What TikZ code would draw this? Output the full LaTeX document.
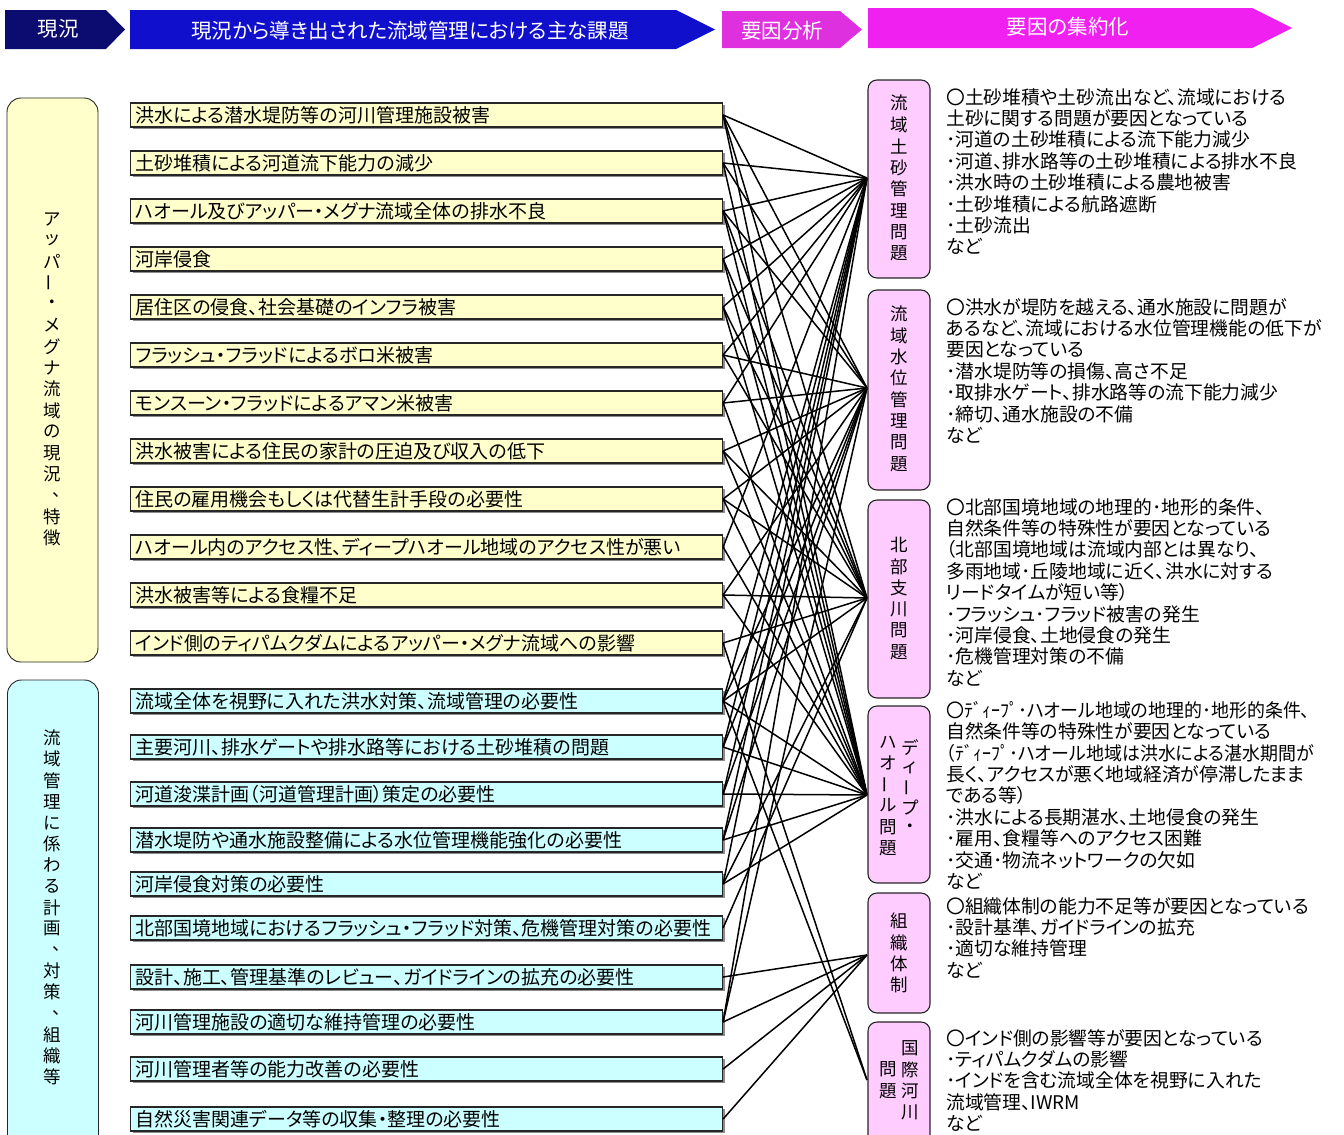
\documentclass[tikz,border=0pt]{standalone}
\usepackage{fontspec}
\usepackage{graphicx}
\setmainfont{Noto Sans CJK JP}[RawFeature={+palt}]
\newfontfamily\jpfull{Noto Sans CJK JP}
\usetikzlibrary{shadows}
\definecolor{yel}{HTML}{FFFFCC}
\definecolor{cya}{HTML}{CCFFFF}
\definecolor{pnk}{HTML}{FFCCFF}
\definecolor{hnavy}{HTML}{0C0C70}
\definecolor{hblue}{HTML}{1010CC}
\definecolor{hmagA}{HTML}{DF30DF}
\definecolor{hmagB}{HTML}{F020F0}
\newcommand\vchoon{\rotatebox[origin=c]{90}{ー}}
\newcommand\vcm{\hspace*{1.1em}\raisebox{.1em}{、}}
\newcommand\narrowline[1]{\scalebox{0.955}[1]{#1}}
\begin{document}
\begin{tikzpicture}[x=1pt,y=-1pt,
  conn/.style={line width=1.5pt, black},
  htext/.style={text=white, font=\fontsize{20.5}{22}\selectfont, inner sep=0pt},
  prob/.style={draw=black!85, line width=1.1pt, anchor=west, text width=582pt, align=left,
    inner xsep=5pt, inner ysep=0pt, minimum height=24pt, font=\fontsize{19}{21}\selectfont,
    drop shadow={shadow xshift=2.2pt, shadow yshift=-2.2pt, fill=black!45, opacity=1}},
  bigbox/.style={draw=black!85, line width=0.9pt, rounded corners=14pt, minimum width=91pt},
  pinkbox/.style={draw=black!85, line width=1.1pt, fill=pnk, rounded corners=9pt, minimum width=62pt},
  vch/.style={inner sep=0pt, font=\jpfull\fontsize{17.5}{20}\selectfont},
  rtext/.style={anchor=north west, inner sep=0pt, align=left, font=\fontsize{18.8}{21.4}\selectfont}]
\useasboundingbox (0,0) rectangle (1344,1135);
\clip (0,0) rectangle (1344,1135);
\fill[white] (0,0) rectangle (1344,1135);
% header
\fill[hnavy] (5,10) -- (106,10) -- (125,29.5) -- (106,49) -- (5,49) -- cycle;
\node[htext] (hd1) at (58,29) {現況};
\fill[hblue] (130,10) -- (676,10) -- (715,29.5) -- (676,49) -- (130,49) -- cycle;
\node[htext] (hd2) at (410,31) {現況から導き出された流域管理における主な課題};
\fill[hmagA] (722,11) -- (840,11) -- (862,29.5) -- (840,48) -- (722,48) -- cycle;
\node[htext] (hd3) at (782,31) {要因分析};
\fill[hmagB] (868,8) -- (1252,8) -- (1292,28) -- (1252,48) -- (868,48) -- cycle;
\node[htext] (hd4) at (1068,27) {要因の集約化};
% left big boxes
\node[bigbox, fill=yel, minimum height=564pt] (gy) at (52.5,380) {};
\node[bigbox, fill=cya, minimum height=480pt] (gc) at (53,920) {};
\foreach \c [count=\i from 0] in {ア,ッ,パ,\vchoon,・,メ,グ,ナ,流,域,の,現,況,\vcm,特,徴}
  \node[vch] (ya\i) at (52,{219+21.27*\i}) {\c};
\foreach \c [count=\i from 0] in {流,域,管,理,に,係,わ,る,計,画,\vcm,対,策,\vcm,組,織,等}
  \node[vch] (yc\i) at (52,{738+21.19*\i}) {\c};
% hubs
\coordinate (h1) at (867,178);
\coordinate (h2) at (867,388);
\coordinate (h3) at (867,598);
\coordinate (h4) at (867,795);
\coordinate (h5) at (867,955);
\coordinate (h6) at (867,1080);
% problem boxes
\foreach \yy/\ptext [count=\i] in {
  115/洪水による潜水堤防等の河川管理施設被害,
  163/土砂堆積による河道流下能力の減少,
  211/ハオール及びアッパー・メグナ流域全体の排水不良,
  259/河岸侵食,
  307/居住区の侵食、社会基礎のインフラ被害,
  355/フラッシュ・フラッドによるボロ米被害,
  403/モンスーン・フラッドによるアマン米被害,
  451/洪水被害による住民の家計の圧迫及び収入の低下,
  499/住民の雇用機会もしくは代替生計手段の必要性,
  547/ハオール内のアクセス性、ディープハオール地域のアクセス性が悪い,
  595/洪水被害等による食糧不足,
  643/インド側のティパムクダムによるアッパー・メグナ流域への影響}
  \node[prob, fill=yel] (p\i) at (130,\yy) {\ptext};
\foreach \yy/\ptext [count=\i from 13] in {
  701/流域全体を視野に入れた洪水対策、流域管理の必要性,
  747/主要河川、排水ゲートや排水路等における土砂堆積の問題,
  794/河道浚渫計画（河道管理計画）策定の必要性,
  840/潜水堤防や通水施設整備による水位管理機能強化の必要性,
  884/河岸侵食対策の必要性,
  928/北部国境地域におけるフラッシュ・フラッド対策、危機管理対策の必要性,
  977/設計、施工、管理基準のレビュー、ガイドラインの拡充の必要性,
  1022/河川管理施設の適切な維持管理の必要性,
  1069/河川管理者等の能力改善の必要性,
  1119/自然災害関連データ等の収集・整理の必要性}
  \node[prob, fill=cya] (p\i) at (130,\yy) {\ptext};
% connectors
\foreach \s/\h in {1/1,1/2,1/3,1/4, 2/1,2/2,2/4, 3/1,3/2,3/3,3/4, 4/1,4/3,4/4,
  5/1,5/3,5/4, 6/1,6/2,6/3, 7/1,7/2,7/4, 8/2,8/3,8/4, 9/2,9/3,9/4, 10/1,10/4,
  11/2,11/3,11/4, 12/3,12/6, 13/1,13/2,13/3,13/4,13/6, 14/1,14/2,14/4,
  15/1,15/2,15/4, 16/1,16/2,16/4, 17/1,17/3,17/4, 18/3, 19/5, 20/1,20/2,20/5, 21/5, 22/5}
  \draw[conn] (p\s.east) -- (h\h);
% pink boxes
\node[pinkbox, minimum height=198pt] (b1) at (899,179) {};
\node[pinkbox, minimum height=200pt] (b2) at (899,390) {};
\node[pinkbox, minimum height=198pt] (b3) at (899,599) {};
\node[pinkbox, minimum height=177pt] (b4) at (899,794.5) {};
\node[pinkbox, minimum height=120pt] (b5) at (899,953) {};
\node[pinkbox, minimum height=140pt] (b6) at (899,1092) {};
\foreach \c [count=\i from 0] in {流,域,土,砂,管,理,問,題}
  \node[vch] (c1\i) at (899,{103+21.5*\i}) {\c};
\foreach \c [count=\i from 0] in {流,域,水,位,管,理,問,題}
  \node[vch] (c2\i) at (899,{314+21.4*\i}) {\c};
\foreach \c [count=\i from 0] in {北,部,支,川,問,題}
  \node[vch] (c3\i) at (899,{545+21.4*\i}) {\c};
\foreach \c [count=\i from 0] in {デ,ィ,\vchoon,プ,・}
  \node[vch] (c4r\i) at (910,{748+20*\i}) {\c};
\foreach \c [count=\i from 0] in {ハ,オ,\vchoon,ル,問,題}
  \node[vch] (c4l\i) at (888,{742+21.2*\i}) {\c};
\foreach \c [count=\i from 0] in {組,織,体,制}
  \node[vch] (c5\i) at (899,{921+21.4*\i}) {\c};
\foreach \c [count=\i from 0] in {国,際,河,川}
  \node[vch] (c6r\i) at (910,{1048+21.4*\i}) {\c};
\foreach \c [count=\i from 0] in {問,題}
  \node[vch] (c6l\i) at (888,{1069.4+21.4*\i}) {\c};
% right texts
\node[rtext] (r1) at (946,88) {〇土砂堆積や土砂流出など、流域における\\土砂に関する問題が要因となっている\\･河道の土砂堆積による流下能力減少\\･河道、排水路等の土砂堆積による排水不良\\･洪水時の土砂堆積による農地被害\\･土砂堆積による航路遮断\\･土砂流出\\など};
\node[rtext] (r2) at (946,298) {〇洪水が堤防を越える、通水施設に問題が\\あるなど、流域における水位管理機能の低下が\\要因となっている\\･潜水堤防等の損傷、高さ不足\\･取排水ゲート、排水路等の流下能力減少\\･締切、通水施設の不備\\など};
\node[rtext] (r3) at (946,498) {〇北部国境地域の地理的･地形的条件、\\自然条件等の特殊性が要因となっている\\（北部国境地域は流域内部とは異なり、\\多雨地域･丘陵地域に近く、洪水に対する\\リードタイムが短い等）\\･フラッシュ･フラッド被害の発生\\･河岸侵食、土地侵食の発生\\･危機管理対策の不備\\など};
\node[rtext] (r4) at (946,701) {\narrowline{〇ﾃﾞｨｰﾌﾟ･ハオール地域の地理的･地形的条件、}\\自然条件等の特殊性が要因となっている\\\narrowline{（ﾃﾞｨｰﾌﾟ･ハオール地域は洪水による湛水期間が}\\長く、アクセスが悪く地域経済が停滞したまま\\である等）\\･洪水による長期湛水、土地侵食の発生\\･雇用、食糧等へのアクセス困難\\･交通･物流ネットワークの欠如\\など};
\node[rtext] (r5) at (946,897) {〇組織体制の能力不足等が要因となっている\\･設計基準、ガイドラインの拡充\\･適切な維持管理\\など};
\node[rtext] (r6) at (946,1029) {〇インド側の影響等が要因となっている\\･ティパムクダムの影響\\･インドを含む流域全体を視野に入れた\\流域管理、IWRM\\など};
\end{tikzpicture}
\end{document}
